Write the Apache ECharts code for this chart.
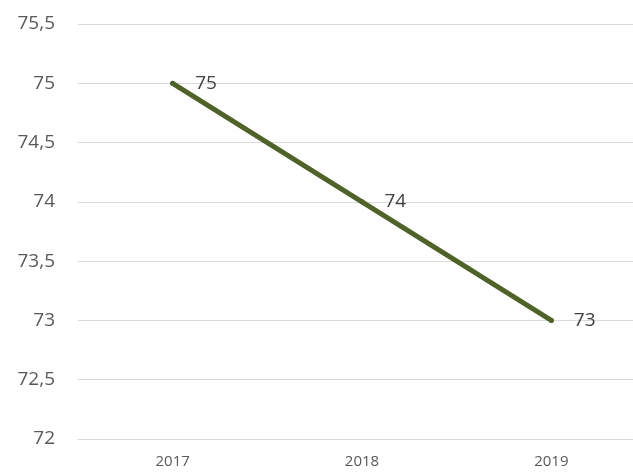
<!DOCTYPE html>
<html>
<head>
<meta charset="utf-8">
<script src="https://cdn.jsdelivr.net/npm/echarts@6/dist/echarts.min.js"></script>
<style>
html,body{margin:0;padding:0;background:#fff;overflow:hidden;}
#chart{width:646px;height:473px;}
</style>
</head>
<body>
<div id="chart"></div>
<script>
const years = ['2017', '2018', '2019']
const values = [75, 74, 73]

const fmt = v => String(v).replace('.', ',')

const myChart = echarts.init(document.getElementById('chart'))
myChart.setOption({
    animation: false,
    grid: {
        left: 78,
        right: 0,
        top: 24,
        bottom: 34,
        containLabel: false
    },
    xAxis: {
        type: 'category',
        data: years,
        boundaryGap: true,
        axisLine: { show: true, lineStyle: { color: '#d9d9d9', width: 1 } },
        axisTick: { show: false },
        axisLabel: {
            color: '#595959',
            fontSize: 15,
            fontFamily: 'Open Sans, sans-serif',
            margin: 15
        }
    },
    yAxis: {
        type: 'value',
        min: 72,
        max: 75.5,
        interval: 0.5,
        axisLine: { show: false },
        axisTick: { show: false },
        splitLine: { lineStyle: { color: '#d9d9d9', width: 1 } },
        axisLabel: {
            color: '#595959',
            fontSize: 19,
            fontFamily: 'Open Sans, sans-serif',
            margin: 23,
            formatter: fmt
        }
    },
    series: [{
        type: 'line',
        data: values,
        symbol: 'circle',
        symbolSize: 5,
        showSymbol: true,
        itemStyle: { color: '#4f6228', borderWidth: 0 },
        lineStyle: { color: '#4f6228', width: 5, cap: 'round' },
        label: {
            show: true,
            position: 'right',
            distance: 20,
            color: '#404040',
            fontSize: 19,
            fontFamily: 'Open Sans, sans-serif',
            formatter: p => fmt(p.value)
        }
    }]
})
</script>
</body>
</html>
